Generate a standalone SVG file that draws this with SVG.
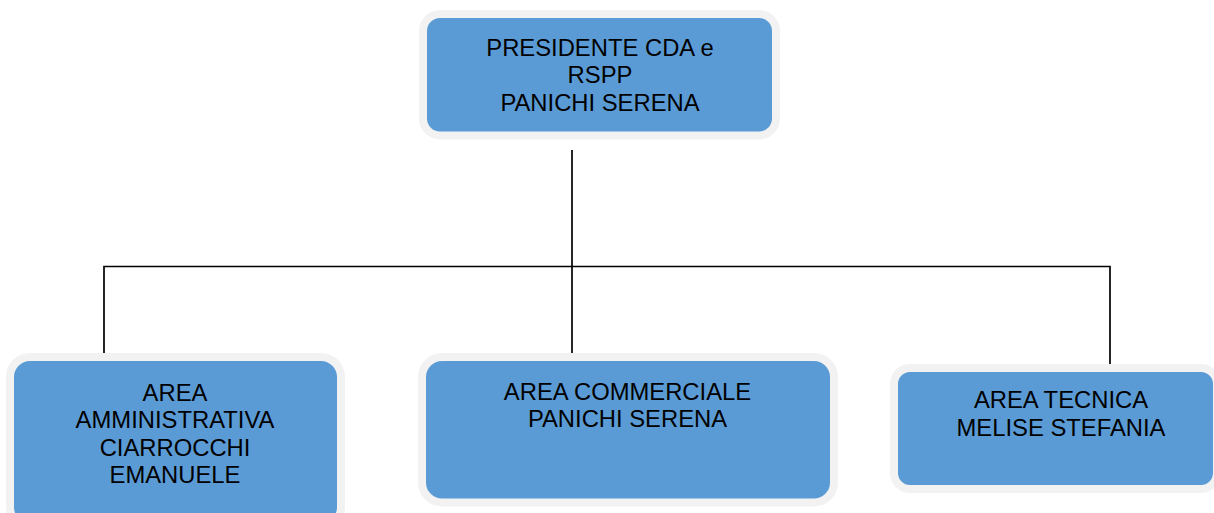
<svg xmlns="http://www.w3.org/2000/svg" width="1214" height="513" viewBox="0 0 1214 513">
<style>
.box{fill:#5b9bd5;stroke:#f2f2f2;stroke-width:8}
.t{font-family:"Liberation Sans",Arial,sans-serif;font-size:23.8px;fill:#000;text-anchor:middle}
.c{stroke:#000;stroke-width:1.7;fill:none}
</style>
<rect width="1214" height="513" fill="#fff"/>
<g id="connectors">
<line class="c" x1="572" y1="150" x2="572" y2="356"/>
<polyline class="c" points="104,356 104,266.5 1110,266.5 1110,367"/>
</g>
<g id="node-presidente">
<rect class="box" x="423" y="14" width="353" height="121.5" rx="17"/>
<text class="t" x="600" y="55.5">PRESIDENTE CDA e</text>
<text class="t" x="600" y="83.3">RSPP</text>
<text class="t" x="600" y="111">PANICHI SERENA</text>
</g>
<g id="node-amministrativa">
<rect class="box" x="10" y="357" width="331" height="170" rx="20"/>
<text class="t" x="175" y="401">AREA</text>
<text class="t" x="175" y="428">AMMINISTRATIVA</text>
<text class="t" x="175" y="455.5">CIARROCCHI</text>
<text class="t" x="175" y="482.5">EMANUELE</text>
</g>
<g id="node-commerciale">
<rect class="box" x="422" y="357" width="412" height="145.5" rx="20"/>
<text class="t" x="627.5" y="400">AREA COMMERCIALE</text>
<text class="t" x="627.5" y="427">PANICHI SERENA</text>
</g>
<g id="node-tecnica">
<rect class="box" x="894" y="368" width="323" height="121" rx="16"/>
<text class="t" x="1061" y="408">AREA TECNICA</text>
<text class="t" x="1061" y="436">MELISE STEFANIA</text>
</g>
</svg>
